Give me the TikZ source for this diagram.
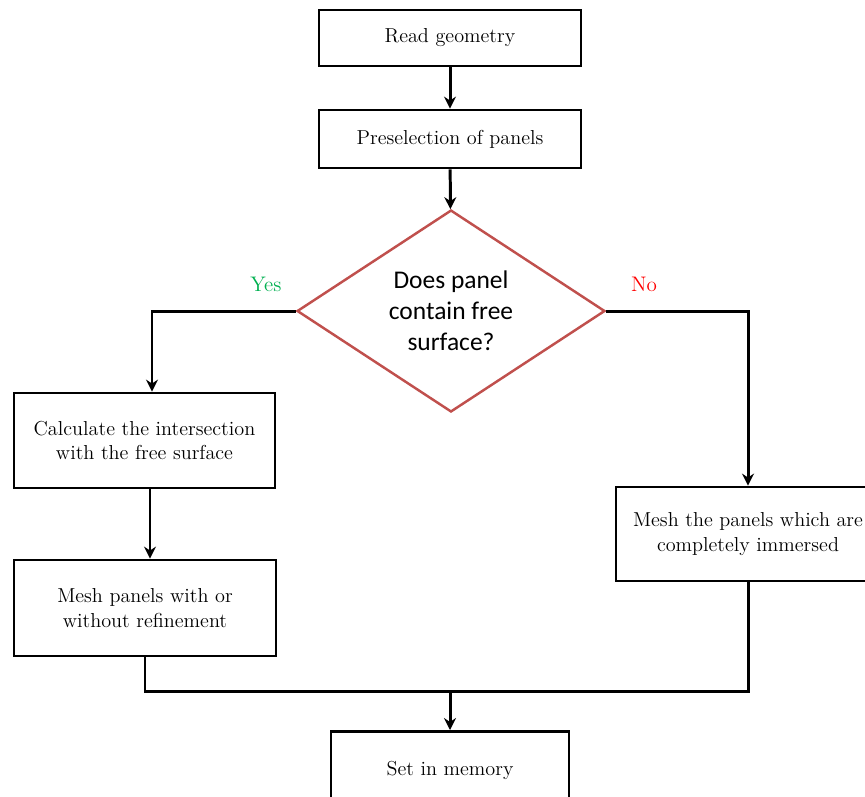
\documentclass[tikz,border=0pt]{standalone}
\usepackage{fontspec}
\newfontfamily\decfont{Carlito}
\usetikzlibrary{shapes.geometric,arrows.meta}
\definecolor{decred}{RGB}{192,80,77}
\definecolor{yesgreen}{RGB}{0,176,80}
\definecolor{nored}{RGB}{255,0,0}
\begin{document}
\begin{tikzpicture}[x=0.02cm,y=-0.02cm,
  box/.style={draw,line width=1.6pt,align=center,inner sep=2pt,
    font=\fontsize{11.5}{14}\selectfont},
  decision/.style={draw=decred,line width=1.4pt,diamond,aspect=1.52,inner sep=0pt,
    minimum width=6.16cm,minimum height=4.04cm,align=center,
    font=\decfont\fontsize{14.5}{17.6}\selectfont},
  flow/.style={line width=1.7pt,-{Stealth[length=2.4mm,width=2.4mm]}},
  mergeline/.style={line width=1.7pt}]
\useasboundingbox (0,0) rectangle (865,796);
\clip (0,0) rectangle (865,796);
\node[box,minimum width=5.24cm,minimum height=1.12cm] (read) at (450,38) {Read geometry};
\node[box,minimum width=5.24cm,minimum height=1.16cm] (pre) at (450,139) {Preselection of panels};
\node[decision] (dec) at (451,311) {Does panel\\contain free\\surface?};
\node[box,minimum width=5.22cm,minimum height=1.9cm] (calc) at (144.5,440.5) {Calculate the intersection\\with the free surface};
\node[box,minimum width=5.24cm,minimum height=1.92cm] (meshl) at (145,608) {Mesh panels with or\\without refinement};
\node[box,minimum width=5.28cm,minimum height=1.88cm] (meshr) at (748,534) {Mesh the panels which are\\completely immersed};
\node[box,minimum width=4.76cm,minimum height=2.2cm,anchor=north] (mem) at (450,730) {\raisebox{0.73cm}{Set in memory}};
\node[text=yesgreen,font=\fontsize{12}{14}\selectfont] (yes) at (266,284) {Yes};
\node[text=nored,font=\fontsize{12}{14}\selectfont] (no) at (644,284) {No};
\coordinate (merge) at (450,691);
\draw[flow] (read) -- (pre);
\draw[flow] (pre) -- (dec);
\draw[flow] (dec.west) -| ([xshift=0.15cm]calc.north);
\draw[flow] (dec.east) -| (meshr.north);
\draw[flow] ([xshift=0.11cm]calc.south) -- ([xshift=0.11cm]calc.south |- meshl.north);
\draw[mergeline] (meshl.south) |- (merge) -| (meshr.south);
\draw[flow] (merge) -- (mem);
\end{tikzpicture}
\end{document}
